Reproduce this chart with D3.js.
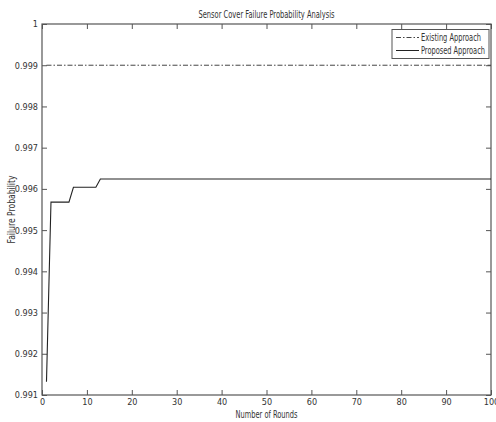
<!DOCTYPE html>
<html>
<head>
<meta charset="utf-8">
<script src="https://cdn.jsdelivr.net/npm/d3@7"></script>
<style>
  body { margin: 0; background: #fff; }
  svg text { font-family: "DejaVu Sans Condensed", "Liberation Sans", sans-serif; fill: #333; }
</style>
</head>
<body>
<script>
var width = 496, height = 422;

/** data **/
var existingRounds = [1, 100];
var existingValues = [0.999, 0.999];
var proposedRounds = [1, 2, 6, 7, 12, 13, 100];
var proposedValues = [0.99132, 0.99568, 0.99568, 0.99604, 0.99604, 0.99624, 0.99624];
var xTicks = [0, 10, 20, 30, 40, 50, 60, 70, 80, 90, 100];
var yTicks = [0.991, 0.992, 0.993, 0.994, 0.995, 0.996, 0.997, 0.998, 0.999, 1];
var yTickLabels = ["0.991", "0.992", "0.993", "0.994", "0.995", "0.996", "0.997", "0.998", "0.999", "1"];

var margin = { left: 42, right: 5, top: 24, bottom: 27 };
var iw = width - margin.left - margin.right, ih = height - margin.top - margin.bottom;

var svg = d3.select("body").append("svg").attr("width", width).attr("height", height);
var g = svg.append("g").attr("transform", "translate(" + margin.left + "," + margin.top + ")");

var x = d3.scaleLinear().domain([0, 100]).range([0, iw]);
var y = d3.scaleLinear().domain([0.991, 1]).range([ih, 0]);

var axisColor = "#555";
var fs = "9px", fsLabel = "10px";
function styleAxis(sel, noText) {
    sel.select(".domain").remove();
    sel.selectAll(".tick line").attr("stroke", axisColor);
    sel.selectAll(".tick text").style("font-size", fs);
    if (noText) sel.selectAll(".tick text").remove();
}

// bottom / top / left / right with inward ticks
g.append("g").attr("transform", "translate(0," + ih + ")")
    .call(d3.axisBottom(x).tickValues(xTicks).tickSize(-5).tickPadding(4).tickFormat(d3.format("d")))
    .call(styleAxis);
g.append("g")
    .call(d3.axisTop(x).tickValues(xTicks).tickSize(-5))
    .call(styleAxis, true);
g.append("g")
    .call(d3.axisLeft(y).tickValues(yTicks).tickSize(-5).tickPadding(4).tickFormat((d, i) => yTickLabels[i]))
    .call(styleAxis);
g.append("g").attr("transform", "translate(" + iw + ",0)")
    .call(d3.axisRight(y).tickValues(yTicks).tickSize(-5))
    .call(styleAxis, true);

g.append("rect").attr("width", iw).attr("height", ih)
    .attr("fill", "none").attr("stroke", axisColor).attr("stroke-width", 1.2);

var line = d3.line().x(d => x(d[0])).y(d => y(d[1]));

g.append("path")
    .datum(existingRounds.map((r, i) => [r, existingValues[i]]))
    .attr("d", line).attr("fill", "none").attr("stroke", "#444")
    .attr("stroke-width", 1).attr("stroke-dasharray", "5,2,1.5,2");

g.append("path")
    .datum(proposedRounds.map((r, i) => [r, proposedValues[i]]))
    .attr("d", line).attr("fill", "none").attr("stroke", "#222").attr("stroke-width", 1.1);

// labels (narrow, like the original's font)
svg.append("text").attr("x", margin.left + iw / 2).attr("y", 18)
    .attr("text-anchor", "middle").style("font-size", fsLabel)
    .attr("textLength", 136).attr("lengthAdjust", "spacingAndGlyphs")
    .text("Sensor Cover Failure Probability Analysis");
svg.append("text").attr("x", margin.left + iw / 2).attr("y", 418)
    .attr("text-anchor", "middle").style("font-size", fsLabel)
    .attr("textLength", 62).attr("lengthAdjust", "spacingAndGlyphs")
    .text("Number of Rounds");
svg.append("text")
    .attr("transform", "translate(15," + (margin.top + ih / 2) + ") rotate(-90)")
    .attr("text-anchor", "middle").style("font-size", fsLabel)
    .attr("textLength", 68).attr("lengthAdjust", "spacingAndGlyphs")
    .text("Failure Probability");

// legend
var legend = svg.append("g").attr("transform", "translate(392,29.5)");
legend.append("rect").attr("width", 97).attr("height", 29)
    .attr("fill", "#fff").attr("stroke", axisColor);
var items = [
    { name: "Existing Approach", dash: "5,2,1.5,2", color: "#444", len: 60 },
    { name: "Proposed Approach", dash: null, color: "#222", len: 64 }
];
items.forEach((it, i) => {
    var yy = 8 + i * 13;
    legend.append("line").attr("x1", 4).attr("x2", 27).attr("y1", yy).attr("y2", yy)
        .attr("stroke", it.color).attr("stroke-dasharray", it.dash);
    legend.append("text").attr("x", 29).attr("y", yy + 3.5)
        .attr("textLength", it.len).attr("lengthAdjust", "spacingAndGlyphs")
        .style("font-size", fsLabel).text(it.name);
});
</script>
</body>
</html>
